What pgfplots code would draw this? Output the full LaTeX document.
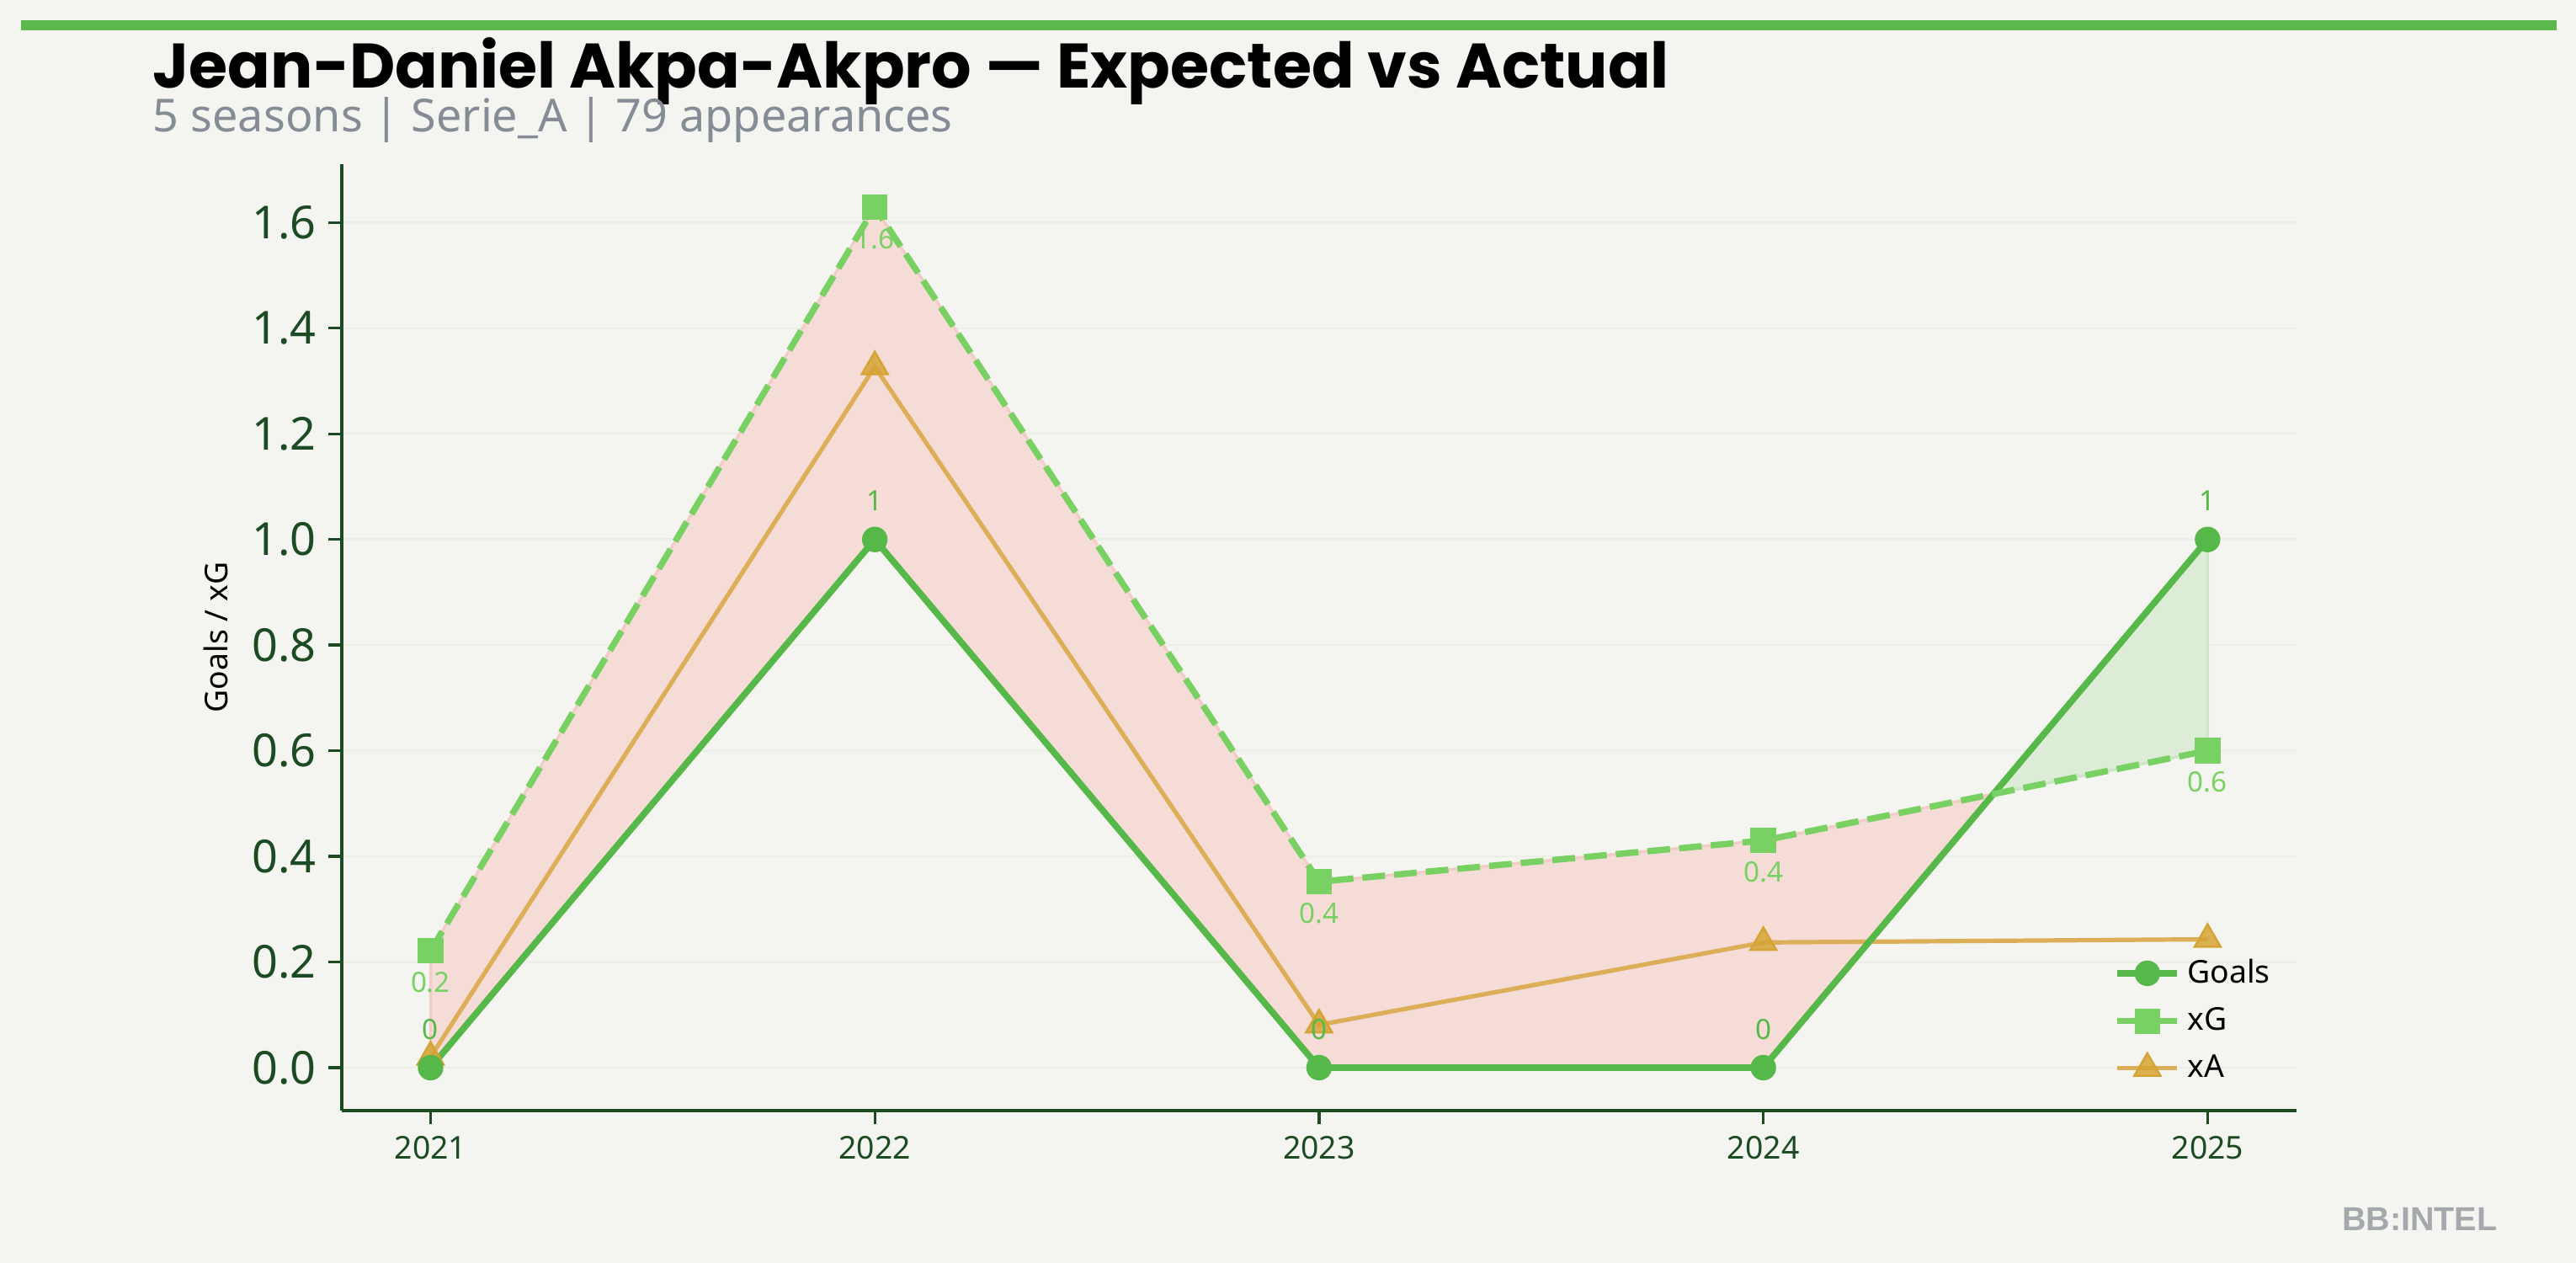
\documentclass[border=0pt]{standalone}
\usepackage{pgfplots}
\pgfplotsset{compat=1.18}
\usepackage{pgfplotstable}
\usepackage{fontspec}
\setmainfont{Noto Sans}
\newfontfamily\titlefont{Poppins}
\newfontfamily\wmfont{Liberation Sans}
\definecolor{bgcol}{HTML}{F4F5F0}
\definecolor{barcol}{HTML}{5CB94B}
\definecolor{goalcol}{HTML}{57B84A}
\definecolor{xgcol}{HTML}{7AD163}
\definecolor{xacol}{HTML}{DCAE58}
\definecolor{xamark}{HTML}{D6A435}
\definecolor{redfill}{HTML}{F5DCD7}
\definecolor{rededge}{HTML}{F2CCC6}
\definecolor{greenfill}{HTML}{DCECD6}
\definecolor{greenedge}{HTML}{CFE5C8}
\definecolor{axcol}{HTML}{1B4A23}
\definecolor{gridcol}{HTML}{ECEEE8}
\definecolor{subgray}{HTML}{868C96}
\definecolor{wmgray}{HTML}{A5A8AC}

% idx: 0=2021 ... 4=2025
\pgfplotstableread{
idx goals glab xg xglab xa
0 0 0 0.221 0.2 0.020
1 1 1 1.629 1.6 1.327
2 0 0 0.352 0.4 0.081
3 0 0 0.430 0.4 0.237
4 1 1 0.600 0.6 0.243
}\datatable

\pgfplotsset{
  goalsstyle/.style={color=goalcol, line width=1.85pt, mark=*, mark size=3.5pt, mark options={solid, fill=goalcol, draw=goalcol, line width=0.3pt}},
  xgstyle/.style={color=xgcol, line width=1.8pt, dash pattern=on 6.5pt off 2.6pt, mark=square*, mark size=3.5pt, mark options={solid, fill=xgcol, draw=xgcol, line width=0.3pt}},
  xastyle/.style={color=xacol, line width=1.25pt, mark=triangle*, mark size=4.3pt, mark options={solid, fill=xamark, fill opacity=0.85, draw=xamark, line width=0.6pt}},
}

\begin{document}
\begin{tikzpicture}
\fill[bgcol] (0,0) rectangle (10.2in,5in);
\path[use as bounding box] (0,0) rectangle (10.2in,5in);
\fill[barcol] (0.083in,4.88in) rectangle (10.123in,4.92in);
\node[anchor=base west, inner sep=0pt, font=\titlefont\bfseries\fontsize{18}{21}\selectfont] at (0.603in,4.65in) {Jean-Daniel Akpa-Akpro — Expected vs Actual};
\node[anchor=base west, inner sep=0pt, text=subgray, font=\fontsize{13}{15}\selectfont] at (0.603in,4.477in) {5 seasons | Serie\_A | 79 appearances};
\node[anchor=base east, inner sep=0pt, text=wmgray, font=\wmfont\bfseries\fontsize{9.5}{11}\selectfont] at (9.89in,0.127in) {BB:INTEL};

\begin{axis}[
  at={(1.353in,0.603in)}, anchor=south west,
  scale only axis, width=7.74in, height=3.747in,
  xmin=-0.2, xmax=4.2, ymin=-0.0815, ymax=1.7105,
  axis x line*=bottom, axis y line*=left,
  axis line style={axcol, line width=0.9pt},
  tick align=outside, major tick length=3.8pt,
  tick style={axcol, line width=0.8pt},
  xtick={0,1,2,3,4},
  xticklabels={2021,2022,2023,2024,2025},
  ytick={0,0.2,0.4,0.6,0.8,1.0,1.2,1.4,1.6},
  /pgf/number format/assume math mode=true,
  yticklabel style={font=\fontsize{13}{15}\selectfont, text=axcol, /pgf/number format/fixed, /pgf/number format/fixed zerofill, /pgf/number format/precision=1},
  xticklabel style={font=\fontsize{9}{11}\selectfont, text=axcol},
  ymajorgrids, grid style={gridcol, line width=0.6pt},
  ylabel={Goals / xG},
  ylabel style={font=\fontsize{9}{11}\selectfont},
  legend style={draw=none, fill=none, inner sep=0pt, at={(0.9905,0.022)}, anchor=south east, font=\fontsize{9}{11}\selectfont, row sep=1.5pt},
  legend cell align=left,
]
% area where xG exceeds goals (crossing at x=3.518, y=0.518)
\addplot[fill=redfill, draw=rededge, line width=0.8pt, forget plot] coordinates {
  (0,0) (1,1) (2,0) (3,0) (3.518,0.518) (3,0.430) (2,0.352) (1,1.629) (0,0.221)} -- cycle;
% area where goals exceed xG
\addplot[fill=greenfill, draw=greenedge, line width=0.8pt, forget plot] coordinates {
  (3.518,0.518) (4,1) (4,0.600)} -- cycle;

\addplot[xastyle, forget plot] table[x=idx, y=xa] {\datatable};
\addplot[goalsstyle, forget plot,
  nodes near coords, point meta=explicit symbolic,
  every node near coord/.style={anchor=center, yshift=11pt, text=goalcol, font=\fontsize{8}{9}\selectfont}]
  table[x=idx, y=goals, meta=glab] {\datatable};
\addplot[xgstyle, forget plot,
  nodes near coords, point meta=explicit symbolic,
  every node near coord/.style={anchor=center, yshift=-9pt, text=xgcol, font=\fontsize{8}{9}\selectfont}]
  table[x=idx, y=xg, meta=xglab] {\datatable};

\addlegendimage{goalsstyle}
\addlegendentry{Goals}
\addlegendimage{xgstyle, solid}
\addlegendentry{xG}
\addlegendimage{xastyle}
\addlegendentry{xA}
\end{axis}
\end{tikzpicture}
\end{document}
